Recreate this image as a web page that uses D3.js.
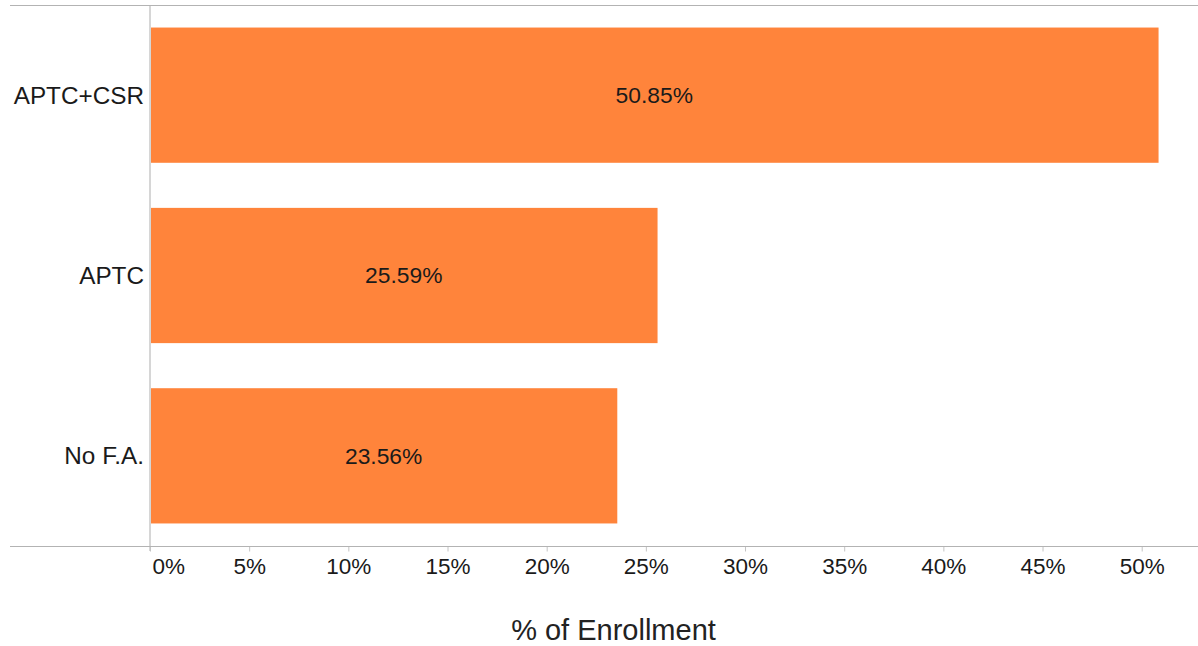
<!DOCTYPE html>
<html>
<head>
<meta charset="utf-8">
<script src="https://cdn.jsdelivr.net/npm/d3@7"></script>
<style>
  html, body { margin: 0; padding: 0; background: #fff; }
  svg { display: block; font-family: "Liberation Sans", Arial, sans-serif; }
</style>
</head>
<body>
<svg id="chart" width="1198" height="646"></svg>
<script>
// Enrollment share by financial assistance type
const categories = ["APTC+CSR", "APTC", "No F.A."];
const values = [50.85, 25.59, 23.56];
const tickValues = [0, 5, 10, 15, 20, 25, 30, 35, 40, 45, 50];
const axisTitle = "% of Enrollment";

const W = 1198, H = 646;
const plot = { left: 150, right: 1198, top: 5, bottom: 546 };
const frameLeft = 10;

const svg = d3.select("#chart");

const x = d3.scaleLinear().domain([0, 50]).range([plot.left, 1141.7]);
const y = d3.scaleBand().domain(categories)
  .range([plot.top, plot.bottom]).paddingInner(0.25).paddingOuter(0.125);

// frame lines
svg.append("line").attr("x1", frameLeft).attr("x2", W)
  .attr("y1", plot.top + 0.5).attr("y2", plot.top + 0.5)
  .attr("stroke", "#b3b3b3").attr("stroke-width", 1);

// bars
svg.selectAll("rect.bar").data(values).join("rect")
  .attr("class", "bar")
  .attr("x", x(0))
  .attr("y", (d, i) => y(categories[i]))
  .attr("width", d => x(d) - x(0))
  .attr("height", y.bandwidth())
  .attr("fill", "#ff843b");

// value labels
svg.selectAll("text.val").data(values).join("text")
  .attr("class", "val")
  .attr("x", d => (x(0) + x(d)) / 2)
  .attr("y", (d, i) => y(categories[i]) + y.bandwidth() / 2)
  .attr("dy", "0.35em")
  .attr("text-anchor", "middle")
  .attr("font-size", 22.8)
  .attr("fill", "#1a1a1a")
  .text(d => d.toFixed(2) + "%");

// vertical axis line
svg.append("line").attr("x1", plot.left).attr("x2", plot.left)
  .attr("y1", plot.top + 1).attr("y2", plot.bottom + 5)
  .attr("stroke", "#d6d6d6").attr("stroke-width", 2);

// category labels
svg.selectAll("text.cat").data(categories).join("text")
  .attr("class", "cat")
  .attr("x", plot.left - 6)
  .attr("y", d => y(d) + y.bandwidth() / 2)
  .attr("dy", "0.35em")
  .attr("text-anchor", "end")
  .attr("font-size", 24.3)
  .attr("fill", "#1a1a1a")
  .text(d => d);

// bottom axis
const xAxis = d3.axisBottom(x).tickValues(tickValues)
  .tickFormat(d => d + "%").tickSize(5).tickSizeOuter(0);
const gx = svg.append("g").attr("transform", `translate(0,${plot.bottom + 0.5})`).call(xAxis);
gx.select(".domain").remove();
gx.selectAll(".tick line").attr("stroke", "#c4c4c4");
gx.selectAll(".tick text")
  .attr("font-size", 22.5)
  .attr("font-family", "Liberation Sans, Arial, sans-serif")
  .attr("fill", "#1a1a1a")
  .attr("y", 12)
  .attr("dy", "0.71em");
gx.selectAll(".tick").filter(d => d === 0).select("text")
  .attr("text-anchor", "start").attr("x", 2);

svg.append("line").attr("x1", frameLeft).attr("x2", W)
  .attr("y1", plot.bottom + 0.5).attr("y2", plot.bottom + 0.5)
  .attr("stroke", "#b3b3b3").attr("stroke-width", 1);

// axis title
svg.append("text")
  .attr("x", 613.5)
  .attr("y", 640)
  .attr("text-anchor", "middle")
  .attr("font-size", 29)
  .attr("fill", "#222")
  .text(axisTitle);
</script>
</body>
</html>
